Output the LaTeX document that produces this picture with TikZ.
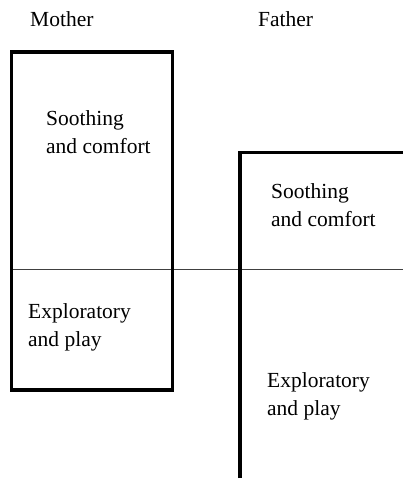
\documentclass[tikz,border=0pt]{standalone}
\usepackage{fontspec}
\setmainfont{Liberation Serif}
\begin{document}
\begin{tikzpicture}[x=1pt,y=-1pt,
  lbl/.style={anchor=base west,inner sep=0pt,align=left,
    font=\fontsize{21.5}{28.5}\selectfont},
  thick box/.style={line width=3.2pt,line join=miter},
  divider/.style={line width=1pt,draw=black!75}]
\useasboundingbox (0,0) rectangle (403,479);
% divider line
\draw[divider] (13,269.5) -- (403,269.5);
% mother box
\draw[thick box] (11.5,52) rectangle (172.5,390);
% father outline
\draw[thick box] (240,478) -- (240,152.5) -- (403,152.5);
% headings
\node[lbl] (mother) at (30,27) {Mother};
\node[lbl] (father) at (258,27) {Father};
% mother texts (base anchor = last line)
\node[lbl] (msooth) at (46,153.5) {Soothing\\and comfort};
\node[lbl] (mexpl) at (28,346.5) {Exploratory\\and play};
% father texts
\node[lbl] (fsooth) at (271,226.5) {Soothing\\and comfort};
\node[lbl] (fexpl) at (267,415.5) {Exploratory\\and play};
\end{tikzpicture}
\end{document}
